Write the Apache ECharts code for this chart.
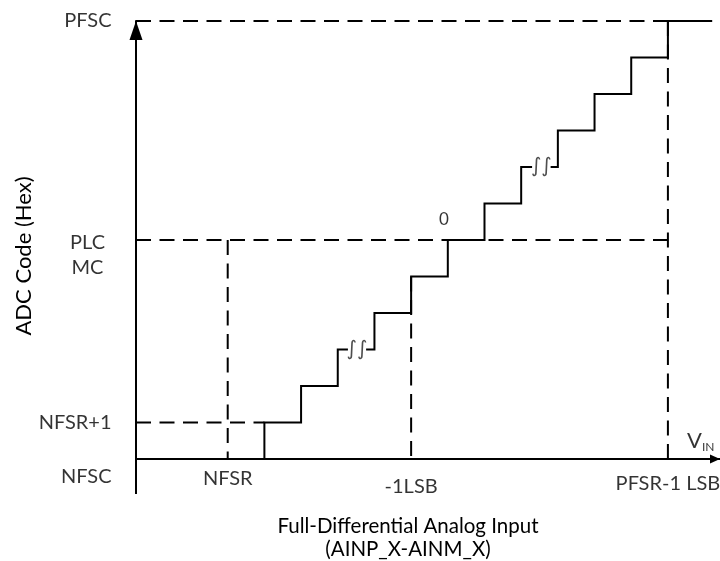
<!DOCTYPE html>
<html>
<head>
<meta charset="utf-8">
<script src="https://cdn.jsdelivr.net/npm/echarts@6/dist/echarts.min.js"></script>
<style>
  html, body { margin: 0; padding: 0; background: #fff; }
  #chart { width: 720px; height: 561px; }
</style>
</head>
<body>
<div id="chart"></div>
<script>
// ---- Transfer-function data (x in LSB, y in output-code steps) ----
// Input levels at which the output code steps up
const stepEdges = [3.5, 4.5, 5.5, 6.5, 7.5, 8.5, 9.5, 10.5, 11.5, 12.5, 13.5, 14.5];
// Output code reached at each of those edges
const stepCodes = [1, 2, 3, 4, 5, 6, 7, 8, 9, 10, 11, 12];
const startCode = 0;
const lastRunEnd = 15.68;
// Omitted-code breaks drawn on two of the flat runs
const breakCodes = [3, 8];
const breakFrom = [5.75, 10.77];
const breakTo = [6.3, 11.33];

// Dashed reference lines
const hGuideCode = [12, 6, 1];          // from the code axis to ...
const hGuideEnd = [14.5, 14.5, 3.5];    // ... this input level
const vGuideInput = [2.5, 7.5, 14.5];   // from the input axis up to ...
const vGuideTop = [6, 5, 12];           // ... this code

// Axis extents, plus how far each axis line runs past the origin
const xRange = [0, 15.92];
const yRange = [0, 12];
const xTail = -1.55;
const yTail = -0.96;

// Tick labels
const xTickValues = [2.5, 7.5, 14.5];
const xTickLabels = ['NFSR', '-1LSB', 'PFSR-1 LSB'];
const yTickValues = [0, 1, 6, 12];
const yTickLabels = ['NFSC', 'NFSR+1', 'PLC\nMC', 'PFSC'];

// Other annotations
const midCodePoint = [8.5, 6];
const midCodeText = '0';
const xAxisTitle = 'Full-Differential Analog Input\n(AINP_X-AINM_X)';
const yAxisTitle = 'ADC Code (Hex)';

// ---- Build the stair polyline, split at the breaks ----
function buildStairs() {
  const segs = [[]];
  let cur = segs[0];
  cur.push([stepEdges[0], startCode]);
  for (let i = 0; i < stepEdges.length; i++) {
    const level = stepCodes[i];
    cur.push([stepEdges[i], level]);
    const nextX = i + 1 < stepEdges.length ? stepEdges[i + 1] : lastRunEnd;
    const b = breakCodes.indexOf(level);
    if (b >= 0) {
      cur.push([breakFrom[b], level]);
      cur = [[breakTo[b], level]];
      segs.push(cur);
    }
    cur.push([nextX, level]);
  }
  return segs;
}

const FONT = 'Lato';
const INK = '#000';
const DASH = [15, 8.5];

// Per-label placement (pixels) for the tick texts
const xLabelGap = [7, 15, 12];
const yLabelGap = [24, 24, 48, 24];
const yLabelAlign = ['right', 'right', 'center', 'right'];
const yLabelShift = [18, 0, 15.5, 0];

const series = [];

function lineSeries(data, style) {
  return {
    type: 'line', silent: true, symbol: 'none', clip: false,
    lineStyle: style, data: data
  };
}

// Axis lines continuing past the origin
series.push(lineSeries([[xTail, 0], [0, 0]], { color: INK, width: 2, cap: 'butt' }));
series.push(lineSeries([[0, 0], [0, yTail]], { color: INK, width: 2, cap: 'butt' }));

hGuideCode.forEach(function (c, i) {
  series.push(lineSeries([[0, c], [hGuideEnd[i], c]], { color: INK, width: 2, type: DASH }));
});
vGuideInput.forEach(function (x, i) {
  series.push(lineSeries([[x, vGuideTop[i]], [x, 0]], { color: INK, width: 2, type: DASH }));
});

buildStairs().forEach(function (seg) {
  series.push(lineSeries(seg, { color: INK, width: 2, join: 'miter', cap: 'square' }));
});

function textSeries(data, label) {
  return {
    type: 'scatter', silent: true, symbolSize: 1, clip: false,
    itemStyle: { color: 'transparent' },
    label: Object.assign({ show: true }, label),
    data: data
  };
}

// Break markers on the stair runs
series.push(textSeries(
  breakCodes.map(function (c, i) { return [(breakFrom[i] + breakTo[i]) / 2, c]; }),
  { position: 'inside', formatter: '\u222B\u222B', fontFamily: 'DejaVu Sans', fontSize: 20, color: '#222' }
));

// Mid-scale code label
series.push(textSeries([midCodePoint], {
  position: 'top', distance: 11, offset: [-4, 0],
  formatter: midCodeText, fontFamily: FONT, fontSize: 17, color: INK
}));

// V_IN tag at the end of the input axis
series.push(textSeries([[xRange[1], 0]], {
  position: 'left', distance: 5, offset: [0, -18],
  formatter: '{v|V}{s|IN}',
  rich: {
    v: { fontFamily: FONT, fontSize: 22, lineHeight: 24, color: INK },
    s: { fontFamily: FONT, fontSize: 12, lineHeight: 14, color: INK, verticalAlign: 'bottom' }
  }
}));

// Input-axis tick labels
xTickValues.forEach(function (v, i) {
  series.push(textSeries([[v, 0]], {
    position: 'bottom', distance: xLabelGap[i],
    formatter: xTickLabels[i], fontFamily: FONT, fontSize: 20, lineHeight: 24, color: INK
  }));
});

// Code-axis tick labels
yTickValues.forEach(function (v, i) {
  series.push(textSeries([[0, v]], {
    position: 'left', distance: yLabelGap[i], offset: [0, yLabelShift[i]], align: yLabelAlign[i],
    formatter: yTickLabels[i], fontFamily: FONT, fontSize: 20, lineHeight: 25, color: INK
  }));
});

const option = {
  animation: false,
  backgroundColor: '#fff',
  grid: { left: 136, right: 0, top: 21, bottom: 102, containLabel: false, outerBoundsMode: 'none' },
  xAxis: {
    type: 'value', min: xRange[0], max: xRange[1],
    axisLine: {
      show: true, onZero: false,
      lineStyle: { color: INK, width: 2 },
      symbol: ['none', 'triangle'], symbolSize: [9, 10], symbolOffset: [0, -5]
    },
    axisTick: { show: false },
    splitLine: { show: false },
    axisLabel: { show: false },
    name: xAxisTitle, nameLocation: 'middle', nameGap: 56,
    nameTextStyle: { fontFamily: FONT, fontSize: 20.5, lineHeight: 23, color: INK, padding: [0, 40, 0, 0] }
  },
  yAxis: {
    type: 'value', min: yRange[0], max: yRange[1],
    axisLine: {
      show: true, onZero: false,
      lineStyle: { color: INK, width: 2 },
      symbol: ['none', 'triangle'], symbolSize: [13, 19], symbolOffset: [0, -9.5]
    },
    axisTick: { show: false },
    splitLine: { show: false },
    axisLabel: { show: false },
    name: yAxisTitle, nameLocation: 'middle', nameGap: 99,
    nameTextStyle: { fontFamily: FONT, fontSize: 22, lineHeight: 26, color: INK, padding: [0, 32, 0, 0] }
  },
  series: series
};

const chart = echarts.init(document.getElementById('chart'), null, { renderer: 'canvas' });
chart.setOption(option);
</script>
</body>
</html>
